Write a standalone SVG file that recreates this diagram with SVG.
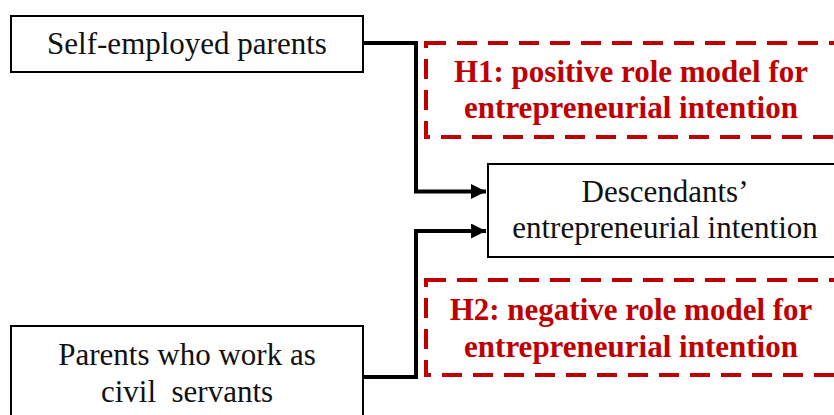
<svg xmlns="http://www.w3.org/2000/svg" width="834" height="415" viewBox="0 0 834 415">
<style>
.box{fill:#fff;stroke:#000;stroke-width:2}
.hyp{fill:none;stroke:#C00000;stroke-width:4;stroke-dasharray:20 11}
.t{font-family:"Liberation Serif","Times New Roman",serif;font-size:31px;fill:#111;text-anchor:middle}
.r{font-family:"Liberation Serif","Times New Roman",serif;font-size:31px;font-weight:bold;fill:#C00000;text-anchor:middle}
.c{fill:none;stroke:#000;stroke-width:4;stroke-linejoin:miter}
</style>
<defs>
<marker id="ah" markerUnits="userSpaceOnUse" markerWidth="16" markerHeight="16" refX="15" refY="7.5" orient="auto">
<path d="M0,0 L15,7.5 L0,15 Z" fill="#000"/>
</marker>
</defs>
<g id="h1">
<rect class="hyp" x="426" y="43" width="420" height="94"/>
<text class="r" x="631" y="82">H1: positive role model for</text>
<text class="r" x="631" y="118">entrepreneurial intention</text>
</g>
<g id="h2">
<rect class="hyp" x="426" y="280" width="420" height="95"/>
<text class="r" x="631" y="320">H2: negative role model for</text>
<text class="r" x="631" y="357">entrepreneurial intention</text>
</g>
<g id="self-employed">
<rect class="box" x="11" y="16" width="352" height="56"/>
<text class="t" x="187" y="54">Self-employed parents</text>
</g>
<g id="civil-servants">
<rect class="box" x="11" y="326" width="352" height="100"/>
<text class="t" x="187" y="365">Parents who work as</text>
<text class="t" x="187" y="402" xml:space="preserve">civil  servants</text>
</g>
<g id="descendants">
<rect class="box" x="488" y="164" width="360" height="93"/>
<text class="t" x="665" y="202">Descendants’</text>
<text class="t" x="665" y="238">entrepreneurial intention</text>
</g>
<g id="connectors">
<path class="c" d="M363,43 H416 V191.5 H486" marker-end="url(#ah)"/>
<path class="c" d="M363,377 H416 V231 H486" marker-end="url(#ah)"/>
</g>
</svg>
